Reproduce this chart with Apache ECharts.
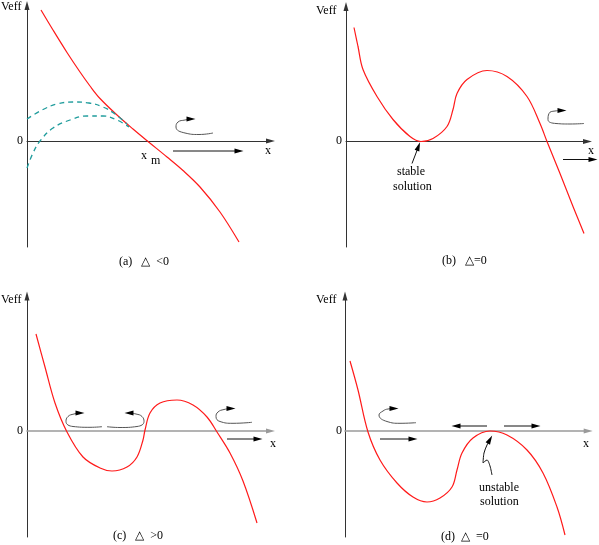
<!DOCTYPE html>
<html>
<head>
<meta charset="utf-8">
<script src="https://cdn.jsdelivr.net/npm/echarts@6/dist/echarts.min.js"></script>
<style>html,body{margin:0;padding:0;background:#fff}#main{width:599px;height:545px}</style>
</head>
<body>
<div id="main"></div>
<script>
// Veff(x) curves, one per panel
var curveA = [[1.4,13.1],[2.6,11.1],[4.0,8.85],[5.3,6.9],[6.3,5.5],[7.3,4.25],[9.0,2.6],[10.6,1.2],[12.1,-0.05],[14.0,-1.6],[15.6,-2.95],[17.3,-4.6],[19.3,-7.1],[21.2,-10.1]];
var dashUpperA = [[0,2.2],[1.5,3.1],[3.0,3.7],[4.6,3.9],[6.2,3.8],[7.6,3.4],[8.8,2.7],[10.0,1.7]];
var dashLowerA = [[0,-2.7],[0.6,-1.2],[1.3,0],[2.6,1.3],[4.3,2.1],[6.0,2.5],[7.6,2.5],[9.0,2.1],[10.2,1.4]];
var curveB = [[0.8,11.4],[1.2,9.5],[1.7,7.2],[3.1,4.5],[4.7,2.2],[6.4,0.5],[7.5,0],[8.7,0.3],[10.1,1.5],[10.7,3.2],[11.1,4.8],[12.1,6.2],[14.1,7.1],[16.1,6.5],[18.1,4.5],[19.4,1.8],[20.1,0],[21.4,-3.2],[22.7,-6.5],[23.8,-9.2]];
var curveC = [[0.9,9.7],[1.8,6.4],[2.8,2.8],[4.0,-0.1],[5.6,-2.6],[7.3,-3.7],[8.5,-4.0],[10.0,-3.6],[11.0,-2.6],[11.6,-0.9],[11.8,0.1],[12.3,1.8],[13.3,2.8],[15.0,3.1],[16.6,2.6],[18.0,1.4],[19.0,-0.1],[20.3,-2.2],[21.6,-5.0],[23.0,-9.2]];
var curveD = [[0.5,7.0],[1.3,4.1],[2.3,-0.1],[3.5,-2.9],[5.2,-5.2],[6.8,-6.6],[8.2,-7.1],[9.5,-6.7],[10.7,-5.6],[11.2,-3.9],[11.7,-2.2],[12.8,-0.7],[14.5,0],[16.2,-0.4],[18.2,-1.9],[19.8,-4.2],[21.2,-7.6],[22.0,-10.4]];

// curled motion arrows (tail first, head last)
var curlA = [[18.6,0.8],[17.2,0.65],[15.8,0.8],[14.9,1.4],[15.1,1.9],[15.8,2.1],[16.4,2.2]];
var curlB = [[23.8,1.8],[22.4,1.75],[21.0,1.8],[20.2,2.2],[20.3,2.8],[20.9,3.05],[21.6,3.1]];
var curlC1 = [[7.5,0.43],[6.3,0.37],[4.6,0.45],[3.9,0.95],[4.1,1.45],[4.7,1.7],[5.3,1.8]];
var curlC2 = [[8.0,0.43],[9.3,0.35],[11.0,0.45],[11.7,0.95],[11.5,1.45],[10.9,1.7],[10.2,1.8]];
var curlC3 = [[22.5,0.87],[20.6,0.77],[19.3,0.95],[18.9,1.45],[19.1,1.9],[19.7,2.15],[20.4,2.25]];
var curlD = [[7.1,0.83],[5.5,0.77],[4.2,0.95],[3.4,1.6],[3.8,2.0],[4.3,2.2],[4.9,2.25]];

// straight arrows
var pushA = [[14.6,-1.0],[21.2,-1.0]];
var pushB = [[21.7,-1.8],[24.7,-1.8]];
var pushC = [[20.0,-0.8],[23.1,-0.8]];
var pushD = [[3.5,-0.8],[6.8,-0.8]];
var leftD = [[14.2,0.5],[11.1,0.5]];
var rightD = [[15.9,0.5],[19.1,0.5]];
var stableB = [[6.6,-2.2],[7.25,-0.5]];
var unstableD = [[14.7,-4.4],[14.5,-3.5],[14.2,-2.9],[13.8,-3.2],[13.9,-2.2],[14.2,-1.4],[14.5,-0.85]];

var captions = ['(a)   \u25B3  <0', '(b)   \u25B3=0', '(c)   \u25B3  >0', '(d)  \u25B3  =0'];

var serif = '"Liberation Serif", "Times New Roman", serif';

var panels = [
	{left: 27, top: 5.5, width: 243.5, height: 241.5, xMax: 24.35, yMin: -10.6, yMax: 13.55, xColor: '#333', xWidth: 1},
	{left: 346, top: 6.5, width: 241.5, height: 240.5, xMax: 24.15, yMin: -10.55, yMax: 13.5, xColor: '#333', xWidth: 1},
	{left: 27, top: 296, width: 243.5, height: 241, xMax: 24.35, yMin: -10.6, yMax: 13.5, xColor: '#9a9a9a', xWidth: 1.6},
	{left: 345, top: 296, width: 243.2, height: 241, xMax: 24.32, yMin: -10.6, yMax: 13.5, xColor: '#9a9a9a', xWidth: 1.6}
];

var myChart = echarts.init(document.getElementById('main'));

var grids = [], xAxes = [], yAxes = [];
panels.forEach(function(p, i) {
	grids.push({left: p.left, top: p.top, width: p.width, height: p.height});
	xAxes.push({
		type: 'value', gridIndex: i, min: 0, max: p.xMax,
		axisLine: {onZero: true, lineStyle: {color: p.xColor, width: p.xWidth}, symbol: ['none', 'triangle'], symbolSize: [5, 9]},
		axisTick: {show: false}, axisLabel: {show: false}, splitLine: {show: false}
	});
	yAxes.push({
		type: 'value', gridIndex: i, min: p.yMin, max: p.yMax,
		axisLine: {onZero: false, lineStyle: {color: '#333', width: 1}, symbol: ['none', 'triangle'], symbolSize: [5, 9]},
		axisTick: {show: false}, axisLabel: {show: false}, splitLine: {show: false}
	});
});

function redLine(data, i) {
	return {
		type: 'line', xAxisIndex: i, yAxisIndex: i, data: data, smooth: 0.35,
		symbol: 'none', clip: false, silent: true,
		lineStyle: {color: '#ff1a1a', width: 1.2}
	};
}

function dashLine(data, i) {
	return {
		type: 'line', xAxisIndex: i, yAxisIndex: i, data: data, smooth: 0.4,
		symbol: 'none', clip: false, silent: true,
		lineStyle: {color: '#1f9c9c', width: 1.3, type: [5, 4]}
	};
}

function arrowLine(data, i, rotate, smooth, color) {
	var pts = data.map(function(d, k) {
		if (k === data.length - 1) {
			return {value: d, symbol: 'triangle', symbolSize: [5, 9], symbolRotate: rotate,
				itemStyle: {color: '#000'}};
		}
		return {value: d, symbol: 'none'};
	});
	return {
		type: 'line', xAxisIndex: i, yAxisIndex: i, data: pts, smooth: smooth,
		showSymbol: true, clip: false, silent: true,
		lineStyle: {color: color || '#111', width: 1}
	};
}

var series = [
	redLine(curveA, 0), dashLine(dashUpperA, 0), dashLine(dashLowerA, 0),
	redLine(curveB, 1), redLine(curveC, 2), redLine(curveD, 3),
	arrowLine(curlA, 0, -90, 0.5, '#555'),
	arrowLine(curlB, 1, -90, 0.5, '#555'),
	arrowLine(curlC1, 2, -90, 0.5, '#555'),
	arrowLine(curlC2, 2, 90, 0.5, '#555'),
	arrowLine(curlC3, 2, -90, 0.5, '#555'),
	arrowLine(curlD, 3, -90, 0.5, '#555'),
	arrowLine(pushA, 0, -90, false),
	arrowLine(pushB, 1, -90, false),
	arrowLine(pushC, 2, -90, false),
	arrowLine(pushD, 3, -90, false),
	arrowLine(leftD, 3, 90, false),
	arrowLine(rightD, 3, -90, false),
	arrowLine(stableB, 1, -20, false),
	arrowLine(unstableD, 3, -29, 0.3)
];

function label(text, x, y) {
	return {
		type: 'text', left: x, top: y, silent: true,
		style: {text: text, font: '12px ' + serif, fill: '#000'}
	};
}

var graphics = [
	label('Veff', 1, 1), label('Veff', 316, 5), label('Veff', 1, 294), label('Veff', 316, 294),
	label('0', 17, 135), label('0', 336, 135), label('0', 17, 425), label('0', 336, 425),
	label('x', 265, 145), label('x', 588, 145), label('x', 270, 438), label('x', 583, 438),
	label('x', 141, 150), label('m', 151, 155),
	label('stable', 397, 166), label('solution', 393, 181),
	label('unstable', 479, 482), label('solution', 480, 496),
	label(captions[0], 119, 256), label(captions[1], 442, 255), label(captions[2], 113, 530), label(captions[3], 441, 531)
];

var option = {
	animation: false,
	backgroundColor: '#fff',
	grid: grids,
	xAxis: xAxes,
	yAxis: yAxes,
	series: series,
	graphic: graphics
};
myChart.setOption(option);
</script>
</body>
</html>
